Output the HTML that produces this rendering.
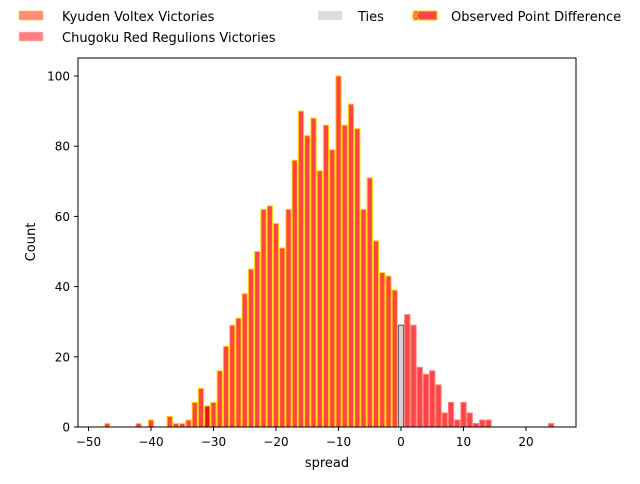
<!DOCTYPE html>
<html><head><meta charset="utf-8"><style>
body{margin:0;background:#fff;font-family:"DejaVu Sans","Liberation Sans",sans-serif;}
svg text{font-family:"DejaVu Sans","Liberation Sans",sans-serif;}
</style></head><body>
<svg id="chart" width="640" height="480" xmlns="http://www.w3.org/2000/svg">
<g id="legend">
 <g><rect x="19" y="11" width="24" height="9" fill="#ff8a80" stroke="#ffd700" stroke-width="0.6"/><text x="62" y="21" font-size="13">Kyuden Voltex Victories</text></g>
 <g><rect x="19" y="32" width="24" height="9" fill="#ff8080" stroke="#ffcccc" stroke-width="0.6"/><text x="62" y="42" font-size="13">Chugoku Red Regulions Victories</text></g>
 <g><rect x="318" y="11" width="24" height="9" fill="#dddddd"/><text x="358" y="21" font-size="13">Ties</text></g>
 <g><rect x="413" y="11" width="24" height="9" fill="#ff4444" stroke="#ffd700" stroke-width="1"/><path d="M413,11 L419,20 M419,11 L413,20" stroke="#ffd700" stroke-width="1"/><text x="451" y="21" font-size="13">Observed Point Difference</text></g>
</g>
<g id="bars"></g>
<rect x="78" y="58" width="498" height="369" fill="none" stroke="#000" stroke-width="1"/>
<g id="xaxis"></g>
<g id="yaxis"></g>
<text x="327" y="467" font-size="13" text-anchor="middle">spread</text>
<text x="35" y="242" font-size="13" text-anchor="middle" transform="rotate(-90 35 242)">Count</text>
</svg>
<script>
const spreads = [-47,-42,-40,-37,-36,-35,-34,-33,-32,-31,-30,-29,-28,-27,-26,-25,-24,-23,-22,-21,-20,-19,-18,-17,-16,-15,-14,-13,-12,-11,-10,-9,-8,-7,-6,-5,-4,-3,-2,-1,0,1,2,3,4,5,6,7,8,9,10,11,12,13,14,24];
const counts = [1,1,2,3,1,1,2,7,11,6,7,16,23,29,31,38,45,50,62,63,58,51,62,76,90,83,88,73,86,79,100,86,92,85,62,71,53,44,43,39,29,32,29,17,15,16,12,4,7,2,7,4,1,2,2,1];
const observed = -31;
const xTicks = [-50,-40,-30,-20,-10,0,10,20];
const yTicks = [0,20,40,60,80,100];
const NS="http://www.w3.org/2000/svg";
function X(v){return 401+v*6.25;}
function Y(v){return 427-v*3.51;}
const bars=document.getElementById('bars');
spreads.forEach((s,i)=>{
  const r=document.createElementNS(NS,'rect');
  
  
  const x0=X(s-0.5)+0.5, x1=X(s+0.5)-0.5;
  r.setAttribute('x',x0);r.setAttribute('width',x1-x0);
  r.setAttribute('y',Y(counts[i]));r.setAttribute('height',Y(0)-Y(counts[i]));
  let fill='#ff4444',stroke='#ffd700';
  if(s===0){fill='#d3d3d3';stroke='#555';}
  else if(s>0){stroke='#ff8080';}
  if(s===observed){fill='#ee1111';}
  r.setAttribute('fill',fill);r.setAttribute('stroke',stroke);r.setAttribute('stroke-width','1');
  bars.appendChild(r);
});
const xa=document.getElementById('xaxis');
xTicks.forEach(t=>{
  const l=document.createElementNS(NS,'line');
  
  
  l.setAttribute('x1',X(t));l.setAttribute('x2',X(t));l.setAttribute('y1',427);l.setAttribute('y2',431);l.setAttribute('stroke','#000');
  xa.appendChild(l);
  const tx=document.createElementNS(NS,'text');
  
  
  tx.setAttribute('x',X(t));tx.setAttribute('y',446);tx.setAttribute('font-size','12');tx.setAttribute('text-anchor','middle');
  tx.textContent=t<0?'\u2212'+(-t):t;
  xa.appendChild(tx);
});
const ya=document.getElementById('yaxis');
yTicks.forEach(t=>{
  const l=document.createElementNS(NS,'line');
  
  
  l.setAttribute('x1',74);l.setAttribute('x2',78);l.setAttribute('y1',Y(t));l.setAttribute('y2',Y(t));l.setAttribute('stroke','#000');
  ya.appendChild(l);
  const tx=document.createElementNS(NS,'text');
  
  
  tx.setAttribute('x',70);tx.setAttribute('y',Y(t)+4.5);tx.setAttribute('font-size','12');tx.setAttribute('text-anchor','end');
  tx.textContent=t;
  ya.appendChild(tx);
});
</script>
</body></html>
